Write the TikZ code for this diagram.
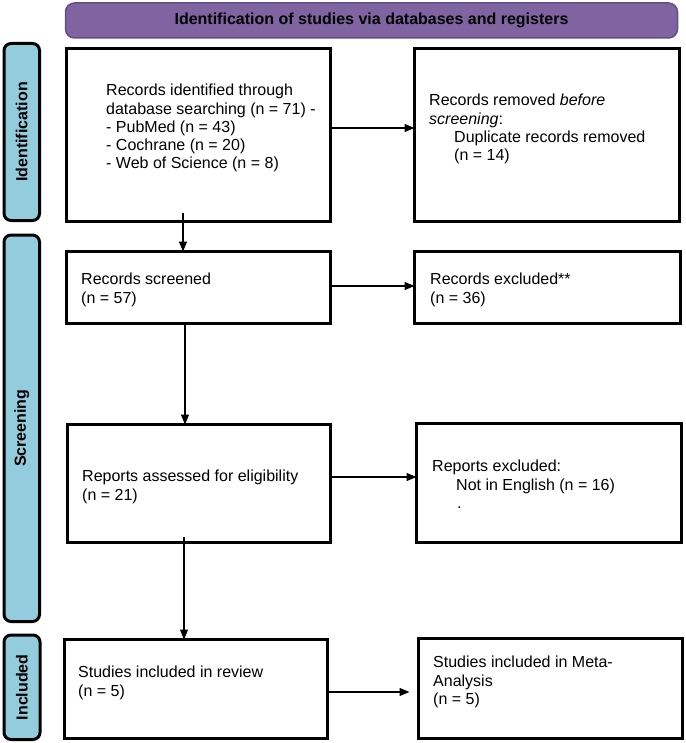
\documentclass[tikz,border=0pt]{standalone}
\usepackage{fontspec}
\setmainfont{Liberation Sans}
\usetikzlibrary{arrows.meta}
\definecolor{bannerfill}{HTML}{8064A2}
\definecolor{bannerdraw}{HTML}{654E86}
\definecolor{barfill}{HTML}{93CDDD}
\begin{document}
\begin{tikzpicture}[x=1pt,y=-1pt,
  box/.style={draw=black, line width=3pt, fill=white, anchor=north west, inner sep=0pt, outer sep=0pt},
  bar/.style={draw=black, line width=3pt, fill=barfill, rounded corners=7pt, anchor=north west, inner sep=0pt, outer sep=0pt},
  banner/.style={draw=bannerdraw, line width=1.5pt, fill=bannerfill, rounded corners=9pt, inner sep=0pt, font=\fontsize{16}{18}\selectfont\bfseries},
  txt/.style={anchor=north west, inner sep=0pt, align=left, font=\fontsize{16}{18.3}\selectfont},
  bartxt/.style={rotate=90, inner sep=0pt, font=\fontsize{16}{18}\selectfont\bfseries},
  arr/.style={line width=1.3pt, -{Triangle[length=10pt,width=8pt]}}]
\useasboundingbox (0,0) rectangle (685,743);

% banner
\node[banner, minimum width=612pt, minimum height=35pt] (ban) at (371.5,20.5) {Identification of studies via databases and registers};

% side bars
\node[bar, minimum width=35.5pt, minimum height=177pt] (idbar) at (4,43.5) {};
\node[bar, minimum width=35.5pt, minimum height=386.5pt] (scbar) at (4,235) {};
\node[bar, minimum width=36pt, minimum height=104.5pt] (inbar) at (4,635) {};
\node[bartxt] (idlab) at (idbar.center) {Identification};
\node[bartxt] (sclab) at (scbar.center) {Screening};
\node[bartxt] (inlab) at (inbar.center) {Included};

% boxes
\node[box, minimum width=264pt, minimum height=173pt] (b1) at (66.5,48.5) {};
\node[box, minimum width=265pt, minimum height=173pt] (b2) at (414.5,48.5) {};
\node[box, minimum width=264pt, minimum height=72pt] (b3) at (66.5,251.5) {};
\node[box, minimum width=266pt, minimum height=72pt] (b4) at (414.5,251.5) {};
\node[box, minimum width=263.5pt, minimum height=117.5pt] (b5) at (67,424.5) {};
\node[box, minimum width=265pt, minimum height=119pt] (b6) at (416.5,423.5) {};
\node[box, minimum width=263pt, minimum height=99pt] (b7) at (64.5,639.5) {};
\node[box, minimum width=264pt, minimum height=100pt] (b8) at (418.5,638.5) {};

% texts
\node[txt] (t1) at (106,84) {Records identified through\\database searching (n = 71) -\\- PubMed (n = 43)\\- Cochrane (n = 20)\\- Web of Science (n = 8)};
\node[txt] (t2) at (429,94) {Records removed \textit{before}\\\textit{screening}:\\\hspace*{25pt}Duplicate records removed\\\hspace*{25pt}(n = 14)};
\node[txt] (t3) at (81,273) {Records screened\\(n = 57)};
\node[txt] (t4) at (430,273) {Records excluded**\\(n = 36)};
\node[txt] (t5) at (82,470) {Reports assessed for eligibility\\(n = 21)};
\node[txt] (t6) at (432,460) {Reports excluded:\\\hspace*{24pt}Not in English (n = 16)\\\hspace*{25pt}.};
\node[txt] (t7) at (78,666) {Studies included in review\\(n = 5)};
\node[txt] (t8) at (433,656) {Studies included in Meta-\\Analysis\\(n = 5)};

% connectors
\coordinate (c1) at (183,213);
\coordinate (c2) at (185,0);
\coordinate (c3) at (184,537);
\coordinate (r1) at (0,128);
\coordinate (r2) at (0,286);
\coordinate (r3) at (0,477);
\coordinate (r4) at (0,692);
\draw[arr] (b1.east |- r1) -- (b2.west |- r1);
\draw[arr] (c1) -- (c1 |- b3.north);
\draw[arr] (b3.east |- r2) -- (b4.west |- r2);
\draw[arr] (b3.south -| c2) -- (b5.north -| c2);
\draw[arr] (b5.east |- r3) -- (b6.west |- r3);
\draw[arr] (c3) -- (c3 |- b7.north);
\draw[arr, shorten >=9pt] (b7.east |- r4) -- (b8.west |- r4);
\end{tikzpicture}
\end{document}
